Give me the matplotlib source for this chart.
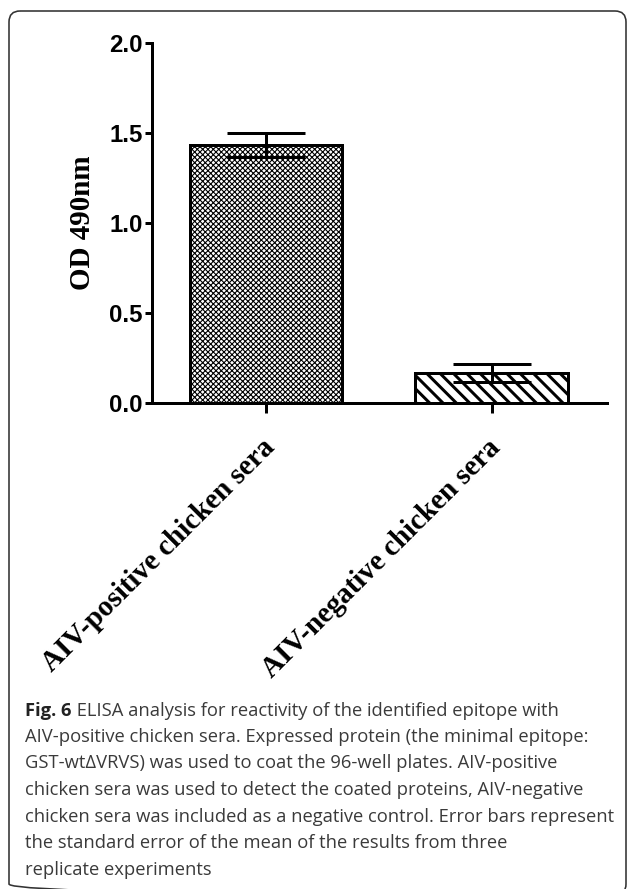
import matplotlib
matplotlib.use("Agg")
import matplotlib.pyplot as plt
import matplotlib.transforms as mtransforms
import numpy as np
from matplotlib.patches import FancyBboxPatch

# data
groups = ["AIV-positive chicken sera", "AIV-negative chicken sera"]
od_mean = [1.435, 0.165]
od_sem = [0.067, 0.051]
hatches = ["xxxxx", "\\\\"]
yticks = [0.0, 0.5, 1.0, 1.5, 2.0]

caption_bold = "Fig. 6"
caption_lines = [
    " ELISA analysis for reactivity of the identified epitope with",
    "AIV-positive chicken sera. Expressed protein (the minimal epitope:",
    "GST-wt\u0394VRVS) was used to coat the 96-well plates. AIV-positive",
    "chicken sera was used to detect the coated proteins, AIV-negative",
    "chicken sera was included as a negative control. Error bars represent",
    "the standard error of the mean of the results from three",
    "replicate experiments",
]

W, H = 629, 889
DPI = 80  # hatch spacing follows dpi, 80 gives the coarser diagonal lines


def pt(px):
    # pixel size -> points at this dpi
    return px * 72 / DPI


fig = plt.figure(figsize=(W / DPI, H / DPI), dpi=DPI)

# background layer in pixel coordinates (frame + caption)
bg = fig.add_axes([0, 0, 1, 1], zorder=0)
bg.set_xlim(0, W)
bg.set_ylim(H, 0)
bg.axis("off")
frame = FancyBboxPatch((9, 11), 617, 884, boxstyle="round,pad=0,rounding_size=11",
                       fc="none", ec="#333333", lw=pt(1.6))
bg.add_patch(frame)

# chart
ax = fig.add_axes([152 / W, 1 - 403 / H, 455 / W, 360 / H], zorder=1)
x = np.arange(len(groups))
bars = ax.bar(x, od_mean, width=0.675, color="white", edgecolor="black",
              linewidth=pt(3), hatch=hatches, zorder=2)
for b, hw in zip(bars, [pt(1.1), pt(3)]):
    if hasattr(b, "set_hatch_linewidth"):
        b.set_hatch_linewidth(hw)
ax.errorbar(x, od_mean, yerr=od_sem, fmt="none", ecolor="black", elinewidth=pt(3),
            capsize=pt(39), capthick=pt(3), zorder=3)
ax.set_xlim(-0.506, 1.512)
ax.set_ylim(0, 2.0)
ax.set_yticks(yticks)
ax.set_yticklabels([f"{v:.1f}" for v in yticks], fontfamily="Liberation Sans",
                   fontweight="bold", fontsize=pt(24))
ax.set_xticks(x)
ax.set_xticklabels([])
for s in ["top", "right"]:
    ax.spines[s].set_visible(False)
for s in ["left", "bottom"]:
    ax.spines[s].set_linewidth(pt(3))
ax.tick_params(axis="y", length=pt(7), width=pt(3), pad=pt(2))
ax.tick_params(axis="x", length=pt(10), width=pt(3))
ax.set_ylabel("OD 490nm", fontfamily="Liberation Serif", fontweight="bold",
              fontsize=pt(29), labelpad=pt(13))

# rotated category labels, top-right end near the tick
for xi, lab in zip(x, groups):
    xp = ax.transData.transform((xi, 0))[0]
    bg.text(xp + 14, 434, lab, rotation=45, ha="right", va="top",
            rotation_mode="default", fontfamily="Liberation Serif",
            fontweight="bold", fontsize=pt(29))

# caption
fig.canvas.draw()
r = fig.canvas.get_renderer()
line_y = [711, 737, 763, 790, 817, 843, 870]
cap_fs = pt(18.4)
t0 = bg.text(25, line_y[0], caption_bold, fontfamily="Open Sans", fontweight="bold",
             fontsize=cap_fs, color="#222222", va="center", ha="left")
bb = t0.get_window_extent(renderer=r)
bg.text(bb.x1, line_y[0], caption_lines[0], fontfamily="Open Sans",
        fontsize=cap_fs, color="#3a3a3a", va="center", ha="left",
        transform=mtransforms.blended_transform_factory(
            mtransforms.IdentityTransform(), bg.transData))
for yy, line in zip(line_y[1:], caption_lines[1:]):
    bg.text(25, yy, line, fontfamily="Open Sans", fontsize=cap_fs, color="#3a3a3a",
            va="center", ha="left")

fig.savefig("out.png", dpi=DPI)
